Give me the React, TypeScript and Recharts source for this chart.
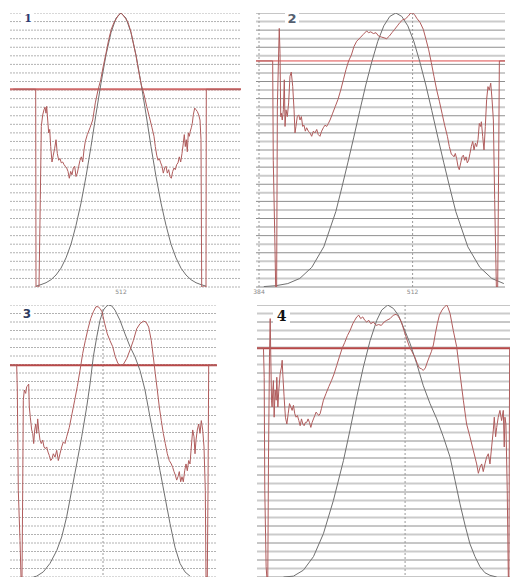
import React from "react";
import { LineChart, Line, XAxis, YAxis, CartesianGrid, ReferenceLine } from "recharts";

// ---------- data (x = bin, y = level on a 0..32 grid) ----------
const gridValues = Array.from({ length: 33 }, (_, i) => i);

const p1Level = 23.1;
const p1Ticks = [512];
const p1Gray: [number, number][] = [
  [427, 0.1], [432, 0.28], [437, 0.5], [442, 0.85], [447, 1.4], [452, 2.2], [457, 3.4], [462, 5.0],
  [467, 7.2], [472, 9.8], [477, 12.9], [482, 16.4], [487, 20.2], [492, 23.8], [497, 27.1], [502, 29.7],
  [507, 31.4], [512, 32], [517, 31.4], [522, 29.7], [527, 27.1], [532, 23.8], [537, 20.2], [542, 16.4],
  [547, 12.9], [552, 9.8], [557, 7.2], [562, 5.0], [567, 3.4], [572, 2.2], [577, 1.4], [582, 0.85],
  [587, 0.5], [592, 0.28], [597, 0.1],
];
const p1Red: [number, number][] = [
  [404.3, 23.1], [426.7, 23.1], [427, 0], [430, 0], [431.3, 10.2], [432.3, 18.75], [433.7, 20.1], [435, 20.7],
  [436, 21.0], [437, 20.3], [437.7, 21.1], [438.7, 19.5], [439.7, 18.0], [440.7, 18.4], [441.7, 16.4], [443, 14.6],
  [444.3, 15.4], [445.7, 16.2], [447, 17.2], [448.3, 15.6], [449.7, 14.8], [451, 15.0], [452.3, 14.5], [453.7, 14.6],
  [455, 14.3], [456.3, 14.1], [457.7, 13.9], [459, 13.5], [460.3, 12.7], [461.7, 13.5], [463, 13.1], [464.3, 13.9],
  [465.7, 14.1], [467, 12.9], [468.3, 13.3], [469.7, 14.1], [471, 14.8], [472.3, 15.2], [473.7, 14.6], [475, 16.0],
  [476.3, 17.0], [478.3, 17.8], [481, 18.6], [483.7, 19.5], [486.3, 21.5], [489, 23.0], [491.7, 24.2], [494.3, 25.8],
  [497, 27.3], [499.7, 28.9], [502.3, 30.1], [505, 30.9], [507.7, 31.4], [509.7, 31.8], [511.7, 32],
  [513.7, 31.8], [516.3, 31.4], [519, 30.9], [521.7, 29.9], [524.3, 28.5], [527, 27.0], [529.7, 25.2], [532.3, 23.6],
  [535, 22.5], [537.7, 21.1], [540.3, 19.9], [543, 18.6], [545, 17.6], [546.3, 16.4], [547.7, 15.4], [549, 14.8],
  [550.3, 15.0], [551.7, 14.5], [553, 14.1], [554.3, 13.3], [555.7, 13.9], [557, 14.1], [558.3, 13.3], [559.7, 13.7],
  [561, 12.9], [562.3, 12.7], [563.7, 13.5], [565, 13.9], [566.3, 13.7], [567.7, 14.3], [569, 14.5], [570.3, 15.2],
  [571.7, 14.6], [573, 15.6], [574.3, 16.8], [575.3, 17.8], [576.3, 16.4], [577.3, 17.2], [578.3, 15.8], [579.3, 18.0],
  [580.3, 17.6], [581.3, 18.2], [582.3, 18.6], [583.3, 19.1], [584.3, 20.1], [585.7, 20.9], [587, 20.7], [588.3, 20.5],
  [589.7, 20.1], [591, 19.5], [592, 17.2], [592.7, 0], [597, 0], [597.3, 23.1], [631.7, 23.1],
];

const p2Level = 26.4;
const p2Ticks = [384, 512];
const p2Gray: [number, number][] = [
  [388, 0.05], [398, 0.15], [408, 0.4], [418, 1.0], [428, 2.3], [438, 4.7], [448, 8.8], [453, 11.6],
  [458, 14.5], [463, 17.5], [468, 20.6], [473, 23.6], [478, 26.3], [483, 28.7], [488, 30.5], [493, 31.6],
  [498, 32], [503, 31.6], [508, 30.5], [513, 28.7], [518, 26.3], [523, 23.6], [528, 20.6], [533, 17.5],
  [538, 14.5], [543, 11.6], [548, 8.8], [558, 4.7], [568, 2.3], [578, 1.0], [588, 0.4],
];
const p2Red: [number, number][] = [
  [381.5, 26.4], [395.4, 26.4], [395.9, 14.8], [397.1, 6.25], [397.9, 0], [398.7, 0], [399.3, 21.1], [400.1, 25.8],
  [400.9, 30.2], [401.5, 27.3], [402.1, 19.9], [402.6, 20.3], [403.4, 19.5], [404.3, 20.7], [405.1, 24.2], [405.7, 18.75],
  [406.5, 20.7], [407.6, 19.9], [408.7, 21.5], [409.8, 24.6], [410.9, 25.1], [412.1, 23.4], [413.2, 20.7], [414, 18.0],
  [414.8, 18.75], [415.9, 19.9], [417.1, 20.1], [418.2, 19.5], [419.3, 19.9], [420.4, 18.75], [421.5, 18.9], [422.6, 18.2],
  [423.7, 18.6], [425.1, 18.2], [426.5, 18.0], [427.9, 17.6], [429.3, 18.2], [430.7, 18.0], [432.1, 18.4], [433.4, 17.8],
  [434.8, 17.6], [436.2, 18.2], [437.6, 18.6], [439, 18.9], [440.4, 18.75], [441.8, 19.1], [443.2, 19.5], [445.4, 20.3],
  [447.6, 21.1], [449.8, 21.9], [452.1, 23.0], [454.3, 24.2], [456.5, 25.4], [458.7, 26.4], [461, 27.1], [463.2, 28.1],
  [465.4, 28.7], [468.2, 29.1], [470.9, 29.5], [473.7, 29.9], [475.4, 29.7], [477.1, 29.8], [479.3, 29.6], [481.5, 29.7],
  [483.7, 29.3], [485.9, 29.2], [488.2, 29.1], [490.4, 29.0], [492.6, 29.3], [494.8, 29.7], [497.1, 30.1], [499.3, 30.5],
  [501.5, 30.9], [503.7, 31.2], [505.9, 31.3], [508.2, 31.6], [510.4, 32.0], [512.1, 32], [513.7, 31.8], [515.4, 31.4],
  [518.2, 30.9], [520.9, 30.1], [523.2, 28.9], [525.4, 27.7], [527.6, 26.2], [529.8, 24.6], [532.1, 23.0], [534.3, 21.7],
  [536.5, 20.3], [538.7, 18.9], [541, 17.6], [542.6, 16.4], [544.3, 15.5], [545.4, 15.4], [546.5, 15.2], [547.6, 15.6],
  [548.7, 15.0], [549.8, 14.1], [550.9, 13.7], [552.1, 14.5], [553.2, 15.2], [554.3, 15.4], [555.4, 14.8], [556.5, 15.2],
  [557.6, 14.5], [558.7, 14.8], [559.8, 15.6], [560.9, 16.4], [562.1, 17.0], [563.2, 16.0], [564.3, 16.8], [565.4, 16.4],
  [566.5, 17.2], [567.6, 19.1], [568.7, 18.75], [569.3, 19.3], [570.4, 17.6], [571.5, 16.0], [572.6, 18.75], [573.7, 21.9],
  [574.8, 23.4], [575.9, 23.0], [577.1, 23.8], [578.2, 21.9], [579.3, 19.5], [580.4, 10.2], [581.2, 4.3], [581.8, 0],
  [582.9, 0], [583.7, 14.1], [584.3, 26.4], [589, 26.4],
];

const p3Level = 24.9;
const p3Gray: [number, number][] = [
  [442.3, 0], [445.7, 0.1], [452.3, 0.6], [459, 1.6], [465.7, 3.1], [470.7, 4.7], [475.7, 7.1], [480.7, 10.2],
  [485.7, 13.3], [490.7, 16.5], [495.7, 20.0], [499, 22.7], [502.3, 25.9], [505.7, 28.2], [509, 30.2], [512.3, 31.4],
  [515, 31.8], [517.3, 32.0], [520.7, 31.9], [524, 31.4], [529, 30.2], [534, 28.6], [539, 27.1], [544, 25.9],
  [549, 24.3], [554, 22.0], [559, 18.8], [564, 15.7], [569, 12.5], [574, 9.4], [579, 6.3], [584, 3.5],
  [589, 1.6], [594, 0.6], [599, 0.1],
];
const p3Red: [number, number][] = [
  [419, 24.9], [425.7, 24.9], [426.3, 22.0], [427.3, 10.2], [429, 4.3], [430, 0], [431, 0], [431.7, 10.2],
  [432.3, 20.8], [433.3, 22.0], [434.7, 21.6], [435.7, 22.4], [436.7, 22.5], [437.7, 22.7], [438.3, 20.0], [439.3, 18.8],
  [440.7, 17.3], [441.7, 16.9], [442.7, 15.7], [443.7, 17.3], [444.7, 18.0], [445.7, 16.9], [446.7, 18.6], [447.7, 17.3],
  [449, 16.1], [450.3, 15.7], [451.7, 16.1], [453, 15.3], [454.3, 15.1], [455.7, 15.3], [457, 14.7], [458.3, 14.3],
  [459.7, 13.7], [461, 13.9], [462.3, 14.5], [464, 14.1], [465.7, 14.9], [467.3, 13.7], [469, 14.5], [470.7, 15.3],
  [472.3, 15.9], [474, 15.7], [475.7, 16.5], [478.3, 17.6], [481, 19.2], [483.7, 20.8], [486.3, 22.4], [489, 24.3],
  [491.7, 26.3], [494.3, 27.8], [497, 29.2], [499.7, 30.4], [502.3, 31.2], [505, 31.8], [507, 31.8], [509, 31.6],
  [511, 31.2], [513.7, 29.8], [516.3, 28.6], [519, 27.8], [521.7, 27.1], [524.3, 25.9], [527, 25.1], [529.7, 24.9],
  [532.3, 25.0], [535.7, 25.7], [539, 26.7], [542.3, 27.8], [545.7, 29.2], [549, 29.8], [552.3, 30.1], [555, 30.0],
  [557.7, 29.4], [560.3, 27.8], [562.3, 25.9], [564.3, 23.9], [566.3, 22.0], [568.3, 20.0], [570.3, 18.4], [572.3, 16.9],
  [574.3, 15.7], [576.3, 14.5], [578.3, 13.7], [580.3, 13.3], [581.7, 12.9], [583, 12.4], [584.3, 12.0], [585.7, 11.4],
  [587, 11.8], [588.3, 12.4], [589.7, 11.2], [591, 11.8], [592.3, 11.2], [593.7, 12.5], [595, 13.3], [596.3, 12.5],
  [597.7, 13.7], [599, 13.3], [600.3, 15.3], [601.7, 17.3], [603, 16.5], [604, 14.5], [605, 16.1], [606.3, 17.3],
  [607.7, 18.0], [609, 16.9], [610.3, 18.4], [611.7, 17.3], [613, 15.3], [614.3, 10.2], [615, 0], [616.3, 0],
  [617, 10.2], [617.7, 24.9], [625.7, 24.9],
];

const p4Level = 26.9;
const p4Gray: [number, number][] = [
  [410.6, 0], [418.9, 0.1], [427.2, 0.8], [435.6, 2.4], [443.9, 5.1], [452.2, 9.0], [460.6, 13.7], [466.1, 17.3],
  [471.7, 21.2], [477.2, 24.7], [482.8, 27.8], [488.4, 30.2], [492.5, 31.4], [497.5, 32.0], [502.2, 31.6], [506.4, 30.8],
  [510.6, 29.4], [516.1, 27.5], [521.7, 25.1], [527.2, 22.5], [532.8, 20.4], [538.4, 18.6], [543.9, 16.5], [549.5, 14.1],
  [553.6, 11.4], [557.8, 8.6], [562, 6.1], [566.1, 3.9], [570.3, 2.4], [574.5, 1.2], [578.6, 0.5], [582.8, 0.2],
  [588.4, 0],
];
const p4Red: [number, number][] = [
  [388.4, 26.9], [393.9, 26.9], [394.5, 23.5], [395, 10.2], [396.1, 1.2], [396.7, 0], [397.5, 0], [398.1, 14.1],
  [398.9, 25.9], [399.5, 30.4], [400, 25.9], [400.6, 20.8], [401.1, 20.0], [401.7, 22.0], [402.2, 23.1], [402.8, 18.8],
  [403.6, 22.0], [404.5, 20.8], [405, 23.5], [405.9, 20.0], [406.7, 22.0], [407.8, 23.9], [408.9, 24.7], [409.5, 25.5],
  [410, 23.9], [411.1, 21.2], [412.2, 18.8], [413.4, 18.0], [414.5, 19.2], [415.6, 20.4], [416.7, 20.0], [417.8, 19.6],
  [418.9, 20.2], [420, 19.2], [421.1, 18.8], [422.2, 19.0], [423.4, 18.4], [424.5, 17.8], [425.6, 18.6], [426.7, 18.0],
  [427.8, 17.8], [428.9, 18.2], [430, 18.2], [431.1, 18.6], [432.2, 18.2], [433.4, 17.6], [434.5, 18.2], [435.6, 18.6],
  [436.7, 19.0], [437.8, 19.4], [438.9, 19.2], [440, 19.0], [441.1, 19.2], [442.2, 19.8], [443.9, 20.8], [446.1, 21.6],
  [448.4, 22.4], [450.6, 23.1], [452.8, 23.9], [455, 24.9], [457.2, 25.9], [459.5, 26.9], [461.7, 27.6], [463.9, 28.4],
  [466.1, 29.0], [468.4, 29.8], [470, 30.2], [471.7, 30.6], [473.4, 30.8], [475, 30.4], [476.7, 30.6], [478.4, 30.2],
  [480, 30.0], [481.7, 30.2], [483.4, 29.8], [485.6, 30.0], [487.8, 29.6], [490, 29.7], [492.2, 29.6], [494.5, 30.0],
  [496.7, 30.2], [499.5, 30.4], [502.2, 30.8], [504.5, 30.9], [506.7, 30.6], [508.9, 30.0], [511.1, 29.0], [513.4, 28.0],
  [515.6, 27.1], [517.8, 26.5], [520, 25.9], [522.2, 25.1], [523.9, 24.6], [525.6, 24.5], [527.2, 24.3], [528.9, 24.6],
  [530.6, 25.3], [532.2, 25.9], [533.9, 26.5], [535.6, 27.3], [537.2, 28.6], [538.9, 29.8], [540.6, 30.8], [542.8, 31.4],
  [545, 31.8], [546.7, 32.0], [547.8, 31.7], [549.5, 31.0], [552.2, 29.0], [555, 27.1], [557.8, 23.9], [560.6, 20.8],
  [563.3, 18.0], [566.1, 16.5], [568.9, 14.9], [571.7, 13.3], [573.1, 12.2], [574.5, 12.9], [575.9, 13.3], [577.2, 12.4],
  [578.6, 13.3], [580, 14.1], [581.4, 14.5], [582.8, 13.3], [584.2, 15.3], [585.6, 17.3], [586.4, 18.8], [587.5, 16.5],
  [588.4, 17.6], [589.7, 18.8], [591.1, 19.6], [592.5, 18.4], [593.9, 19.6], [594.7, 15.3], [595.3, 18.8], [596.1, 18.0],
  [597.2, 10.2], [598.1, 0], [598.6, 0], [599.2, 26.9],
];

const labels = ["1", "2", "3", "4"];

// ---------- components ----------
type PanelProps = {
  left: number;
  top: number;
  width: number;
  height: number;
  domain: [number, number];
  gray: [number, number][];
  red: [number, number][];
  level: number;
  levelColor: string;
  levelWidth: number;
  solidGrid: boolean;
  vLines: number[];
  ticks?: number[];
};

const toRows = (pts: [number, number][]) => pts.map(([x, y]) => ({ x, y }));
const PAD = 10;

function dottedLine(props: any) {
  return (
    <line
      key={props.key}
      x1={props.x1}
      y1={props.y1}
      x2={props.x2}
      y2={props.y2}
      stroke="#b2b2b2"
      strokeWidth={1}
      strokeDasharray="2 1"
      fill="none"
    />
  );
}

function alternatingLine(props: any) {
  const idx = typeof props.index === "number" ? props.index : 0;
  const light = idx % 2 === 1;
  return (
    <line
      key={props.key}
      x1={props.x1}
      y1={props.y1}
      x2={props.x2}
      y2={props.y2}
      stroke={light ? "#cbcbcb" : "#8e8e8e"}
      strokeWidth={light ? 2 : 1}
      fill="none"
    />
  );
}

function Panel(p: PanelProps) {
  const axisH = p.ticks ? 8 : 0;
  return (
    <div style={{ position: "absolute", left: p.left - PAD, top: p.top }}>
      <LineChart
        width={p.width + 2 * PAD}
        height={p.height + axisH}
        margin={{ top: 0, right: PAD, bottom: 0, left: PAD }}
      >
        <CartesianGrid
          vertical={false}
          horizontal={p.solidGrid ? alternatingLine : dottedLine}
          syncWithTicks
        />
        {p.vLines.length ? (
          <CartesianGrid horizontal={false} verticalValues={p.vLines} stroke="#9a9a9a" strokeDasharray="2 2" />
        ) : null}
        <XAxis
          type="number"
          dataKey="x"
          domain={p.domain}
          allowDataOverflow
          hide={!p.ticks}
          ticks={p.ticks}
          interval={0}
          height={axisH}
          axisLine={false}
          tickLine={false}
          tickSize={1}
          tick={{ fontSize: 6, fill: "#888", fontFamily: "DejaVu Sans" }}
        />
        <YAxis type="number" domain={[0, 32]} ticks={gridValues} interval={0} allowDataOverflow hide />
        <ReferenceLine y={p.level} stroke={p.levelColor} strokeWidth={p.levelWidth} />
        <Line
          data={toRows(p.gray)}
          dataKey="y"
          type="linear"
          dot={false}
          stroke="#707070"
          strokeWidth={1}
          isAnimationActive={false}
        />
        <Line
          data={toRows(p.red)}
          dataKey="y"
          type="linear"
          dot={false}
          stroke="#b05c5c"
          strokeWidth={1}
          isAnimationActive={false}
        />
      </LineChart>
    </div>
  );
}

function Tag(props: { text: string; left: number; top: number; w: number; h: number; color: string; font: string; size: number }) {
  return (
    <div
      style={{
        position: "absolute",
        left: props.left,
        top: props.top,
        width: props.w,
        height: props.h,
        background: "#fff",
        color: props.color,
        fontFamily: props.font,
        fontWeight: "bold",
        fontSize: props.size,
        lineHeight: `${props.h}px`,
        textAlign: "center",
      }}
    >
      {props.text}
    </div>
  );
}

export default function App() {
  return (
    <div style={{ position: "absolute", left: 0, top: 0, width: 510, height: 577, overflow: "hidden", background: "#fff" }}>
      <Panel left={10} top={13} width={231} height={274} domain={[401, 632]} gray={p1Gray} red={p1Red}
        level={p1Level} levelColor="#cf6a6a" levelWidth={2} solidGrid={false} vLines={[]} ticks={p1Ticks} />
      <Panel left={256} top={13} width={249} height={274} domain={[381.5, 589]} gray={p2Gray} red={p2Red}
        level={p2Level} levelColor="#de4c4c" levelWidth={1} solidGrid={true} vLines={[384, 512]} ticks={p2Ticks} />
      <Panel left={10} top={305} width={207} height={272} domain={[419, 626]} gray={p3Gray} red={p3Red}
        level={p3Level} levelColor="#b84848" levelWidth={2} solidGrid={false} vLines={[512]} />
      <Panel left={257} top={305} width={253} height={272} domain={[388.5, 599.5]} gray={p4Gray} red={p4Red}
        level={p4Level} levelColor="#b84848" levelWidth={2} solidGrid={true} vLines={[512]} />
      <Tag text={labels[0]} left={22} top={13} w={12} h={12} color="#2e3a6e" font="'DejaVu Serif', serif" size={11} />
      <Tag text={labels[1]} left={285} top={12} w={14} h={14} color="#556070" font="'DejaVu Sans', sans-serif" size={13} />
      <Tag text={labels[2]} left={21} top={308} w={12} h={12} color="#2e3a5e" font="'DejaVu Sans', sans-serif" size={12} />
      <Tag text={labels[3]} left={273} top={309} w={17} h={14} color="#111" font="'DejaVu Serif', serif" size={14} />
    </div>
  );
}
